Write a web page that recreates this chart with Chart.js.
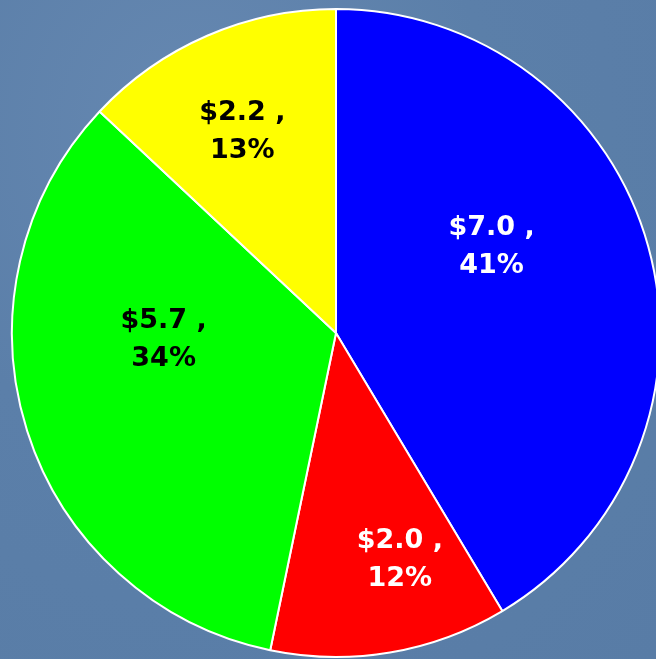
<!DOCTYPE html>
<html>
<head>
<meta charset="utf-8">
<script src="https://cdn.jsdelivr.net/npm/chart.js@4"></script>
<style>
  html, body { margin:0; padding:0; overflow:hidden; width:656px; height:659px;
    background: radial-gradient(ellipse at 30% 20%, #6688b1 0%, #5b7fa9 45%, #587ca6 100%); }
  #wrap { position:absolute; left:0; top:0; width:672px; height:666px; }
</style>
</head>
<body>
<div id="wrap"><canvas id="pie"></canvas></div>
<script>
// slices, clockwise from 12 o'clock
const categories = ['A', 'B', 'C', 'D'];
const values = [7.0, 2.0, 5.7, 2.2];
const colors = ['#0000ff', '#ff0000', '#00ff00', '#ffff00'];
const labelColors = ['#ffffff', '#ffffff', '#000000', '#000000'];
// label centre as fraction of radius from pie centre
const labelOffsets = [[0.48, -0.265], [0.197, 0.70], [-0.532, 0.022], [-0.289, -0.62]];

const pieLabels = {
  id: 'pieLabels',
  afterDatasetsDraw(chart){
    const ctx = chart.ctx;
    const meta = chart.getDatasetMeta(0);
    const total = values.reduce((a, b) => a + b, 0);
    ctx.save();
    ctx.font = 'bold 27px "DejaVu Sans", Verdana, sans-serif';
    ctx.textAlign = 'center';
    ctx.textBaseline = 'middle';
    meta.data.forEach((arc, i) => {
      const r = arc.outerRadius;
      const x = arc.x + labelOffsets[i][0] * r;
      const y = arc.y + labelOffsets[i][1] * r;
      const pct = Math.round(values[i] / total * 100);
      ctx.fillStyle = labelColors[i];
      ctx.fillText('$' + values[i].toFixed(1) + ' ,', x, y - 19);
      ctx.fillText(pct + '%', x, y + 19);
    });
    ctx.restore();
  }
};

new Chart(document.getElementById('pie').getContext('2d'), {
  type: 'pie',
  data: {
    labels: categories,
    datasets: [{ data: values, backgroundColor: colors, borderColor: '#ffffff', borderWidth: 2 }]
  },
  options: {
    responsive: true,
    maintainAspectRatio: false,
    animation: false,
    layout: { padding: { left: 11, right: 11, top: 8, bottom: 8 } },
    plugins: { legend: { display: false }, tooltip: { enabled: false } }
  },
  plugins: [pieLabels]
});
</script>
</body>
</html>
